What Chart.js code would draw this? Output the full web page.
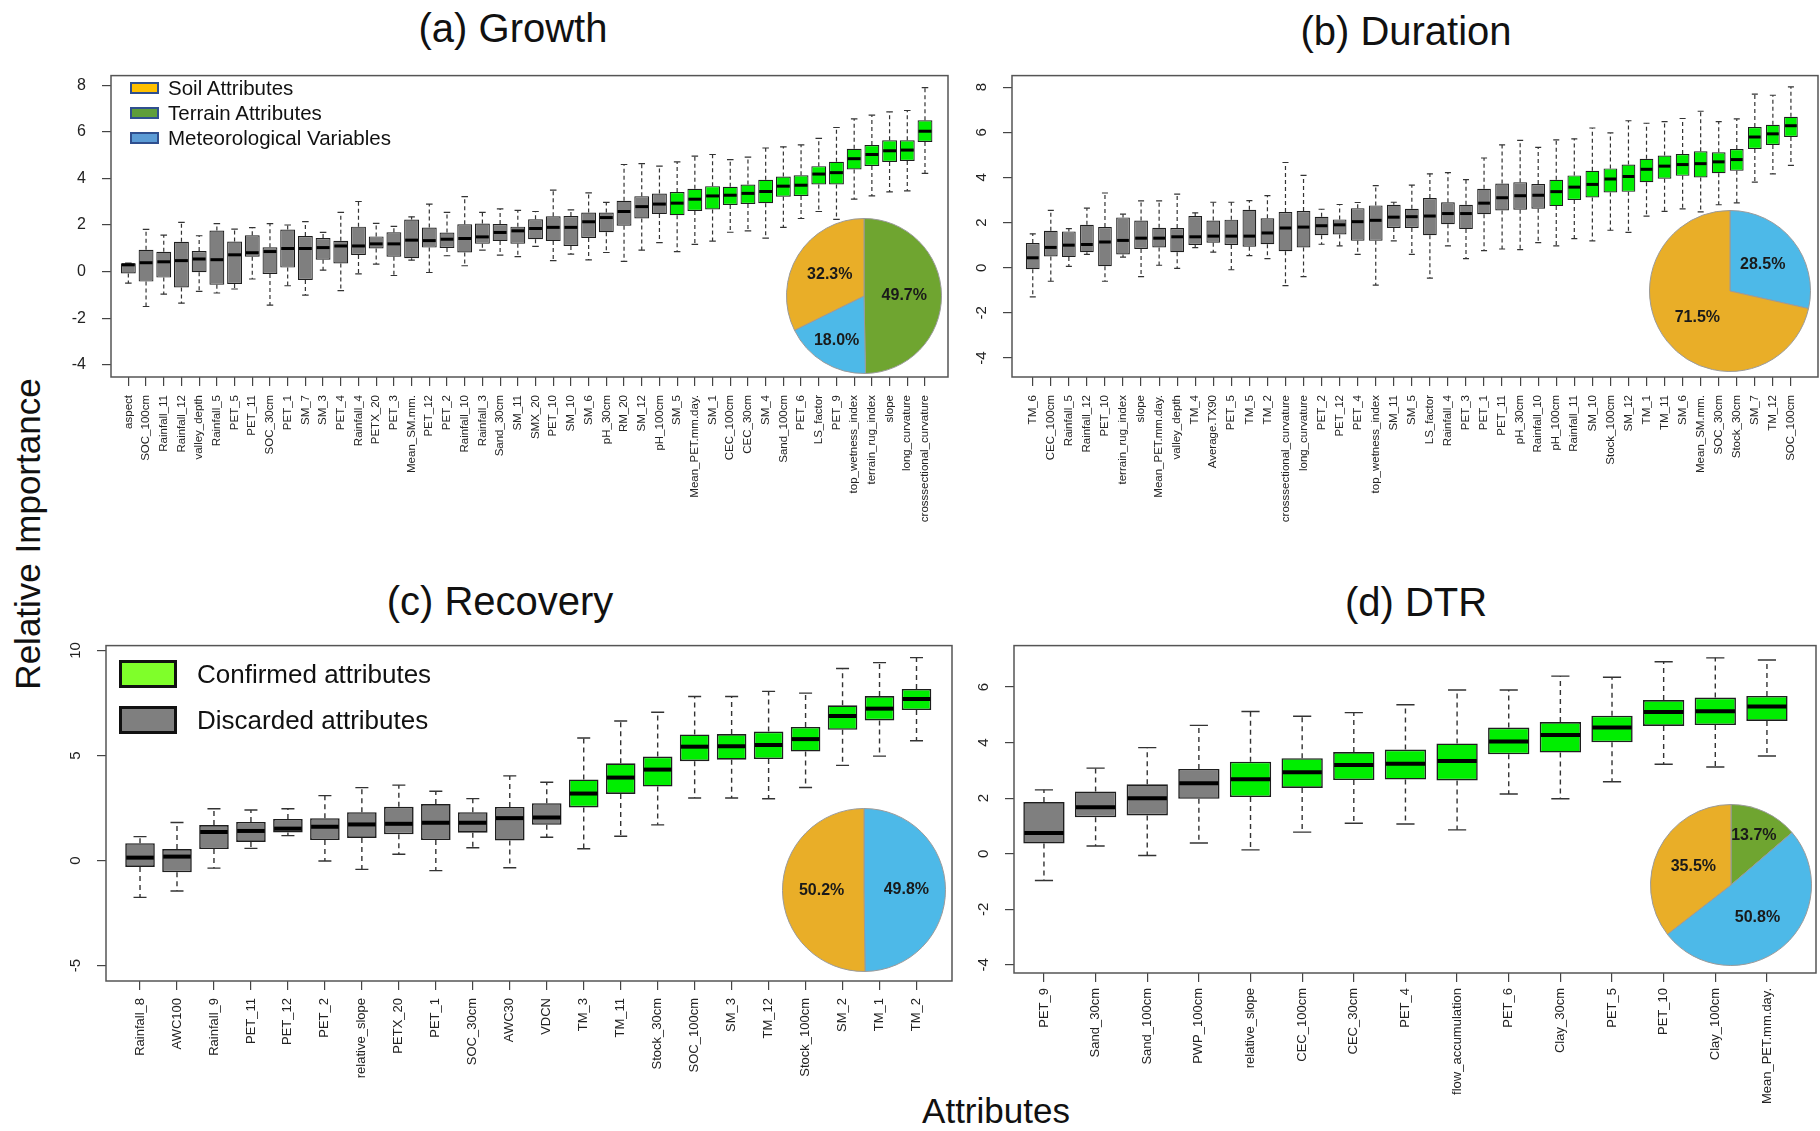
<!DOCTYPE html>
<html>
<head>
<meta charset="utf-8">
<script src="https://cdn.jsdelivr.net/npm/chart.js@4.4.0/dist/chart.umd.min.js"></script>
<style>
body { margin: 0; background: #fff; width: 1820px; height: 1131px; overflow: hidden; position: relative; font-family: "Liberation Sans", Arial, sans-serif; color: #111; }
.pane { position: absolute; }
.txt { position: absolute; white-space: nowrap; transform: translate(-50%, -50%); }
.title { font-size: 40px; }
.axt { font-size: 35px; }
.leg { position: absolute; }
.leg div { display: flex; align-items: center; }
.legA div { height: 25px; font-size: 20.5px; }
.legA span.sw { width: 25px; height: 8px; border: 2px solid #2f4f8f; margin-right: 9px; }
.legC div { height: 46px; font-size: 26px; }
.legC span.sw { width: 52px; height: 22px; border: 3px solid #111; margin-right: 20px; }
</style>
</head>
<body>
<div class="txt title" style="left:513px;top:28px">(a) Growth</div>
<div class="txt title" style="left:1406px;top:31px">(b) Duration</div>
<div class="txt title" style="left:500px;top:601px">(c) Recovery</div>
<div class="txt title" style="left:1416px;top:602px">(d) DTR</div>
<div class="txt axt" style="left:28px;top:534px;transform:translate(-50%,-50%) rotate(-90deg)">Relative Importance</div>
<div class="txt axt" style="left:996px;top:1111px">Attributes</div>

<div class="pane" style="left:0;top:50px"><canvas id="growth" width="960" height="500"></canvas></div>
<div class="pane" style="left:960px;top:50px"><canvas id="duration" width="860" height="500"></canvas></div>
<div class="pane" style="left:0;top:620px"><canvas id="recovery" width="960" height="511"></canvas></div>
<div class="pane" style="left:960px;top:620px"><canvas id="dtr" width="860" height="511"></canvas></div>

<div class="pane" style="left:785px;top:217px"><canvas id="pieA" width="158" height="158"></canvas></div>
<div class="pane" style="left:1648px;top:209px"><canvas id="pieB" width="164" height="164"></canvas></div>
<div class="pane" style="left:781px;top:807px"><canvas id="pieC" width="166" height="166"></canvas></div>
<div class="pane" style="left:1649px;top:803px"><canvas id="pieD" width="164" height="164"></canvas></div>

<div class="leg legA" style="left:130px;top:75px">
  <div><span class="sw" style="background:#ffc000"></span>Soil Attributes</div>
  <div><span class="sw" style="background:#5e9e3a"></span>Terrain Attributes</div>
  <div><span class="sw" style="background:#5b9bd5"></span>Meteorological Variables</div>
</div>
<div class="leg legC" style="left:119px;top:651px">
  <div><span class="sw" style="background:#7fff2a"></span>Confirmed attributes</div>
  <div><span class="sw" style="background:#7f7f7f"></span>Discarded attributes</div>
</div>

<script>
Chart.defaults.font.family = '"Liberation Sans", Arial, sans-serif';
Chart.defaults.animation = false;

// (a) Growth
const growthLabels = ['aspect','SOC_100cm','Rainfall_11','Rainfall_12','valley_depth','Rainfall_5','PET_5','PET_11','SOC_30cm','PET_1','SM_7','SM_3','PET_4','Rainfall_4','PETX_20','PET_3','Mean_SM.mm.','PET_12','PET_2','Rainfall_10','Rainfall_3','Sand_30cm','SM_11','SMX_20','PET_10','SM_10','SM_6','pH_30cm','RM_20','SM_12','pH_100cm','SM_5','Mean_PET.mm.day.','SM_1','CEC_100cm','CEC_30cm','SM_4','Sand_100cm','PET_6','LS_factor','PET_9','top_wetness_index','terrain_rug_index','slope','long_curvature','crosssectional_curvature'];
const growthHigh = [0.36,1.81,1.57,2.11,1.54,2.06,1.82,1.89,2.06,2.0,2.15,1.68,2.54,3.01,2.07,1.94,2.35,2.9,2.54,3.22,2.54,2.69,2.63,2.58,3.5,2.65,3.38,2.97,4.6,4.64,4.53,4.71,4.96,5.03,4.81,4.92,5.31,5.36,5.44,5.72,6.19,6.56,6.72,6.86,6.92,7.9];
const growthQ3 = [0.36,0.94,0.85,1.28,0.88,1.76,1.29,1.56,1.04,1.81,1.53,1.44,1.32,1.93,1.51,1.69,2.24,1.89,1.68,2.03,2.06,2.04,1.93,2.25,2.38,2.39,2.54,2.54,3.04,3.24,3.35,3.42,3.56,3.67,3.64,3.74,3.94,4.08,4.14,4.53,4.72,5.28,5.44,5.64,5.64,6.5];
const growthMed = [0.29,0.38,0.42,0.47,0.54,0.51,0.72,0.81,0.86,0.99,0.99,1.03,1.1,1.1,1.19,1.19,1.35,1.33,1.39,1.42,1.49,1.68,1.75,1.85,1.9,1.9,2.14,2.32,2.58,2.79,2.9,2.94,3.11,3.25,3.28,3.36,3.44,3.67,3.71,4.19,4.25,4.85,5.03,5.19,5.22,6.03];
const growthQ1 = [-0.08,-0.43,-0.26,-0.68,-0.03,-0.57,-0.53,0.64,-0.1,0.17,-0.36,0.51,0.35,0.71,0.99,0.64,0.57,1.03,1.01,0.82,1.19,1.31,1.19,1.39,1.31,1.1,1.44,1.69,1.97,2.28,2.47,2.42,2.6,2.67,2.86,2.9,2.94,3.22,3.25,3.74,3.74,4.39,4.54,4.71,4.75,5.57];
const growthLow = [-0.5,-1.5,-0.97,-1.36,-0.85,-0.92,-0.75,-0.32,-1.44,-0.61,-1.01,0.06,-0.82,-0.1,0.32,-0.17,0.49,-0.04,0.68,0.25,0.92,0.71,0.64,1.08,0.47,0.75,0.5,0.82,0.44,0.92,1.24,0.86,1.17,1.31,1.69,1.75,1.44,1.9,2.28,2.58,2.24,3.11,3.25,3.42,3.47,4.22];
const growthConfirmed = 15;
const growthTicks = [-4,-2,0,2,4,6,8];

// (b) Duration
const durationLabels = ['TM_6','CEC_100cm','Rainfall_5','Rainfall_12','PET_10','terrain_rug_index','slope','Mean_PET.mm.day.','valley_depth','TM_4','Average.TX90','PET_5','TM_5','TM_2','crosssectional_curvature','long_curvature','PET_2','PET_12','PET_4','top_wetness_index','SM_11','SM_5','LS_factor','Rainfall_4','PET_3','PET_1','PET_11','pH_30cm','Rainfall_10','pH_100cm','Rainfall_11','SM_10','Stock_100cm','SM_12','TM_1','TM_11','SM_6','Mean_SM.mm.','SOC_30cm','Stock_30cm','SM_7','TM_12','SOC_100cm'];
const durationHigh = [1.5,2.54,1.73,2.64,3.31,2.37,2.96,2.96,3.26,2.43,2.9,2.9,2.97,3.19,4.66,4.09,2.59,2.8,2.89,3.64,2.9,3.66,4.16,4.21,3.9,4.86,5.44,5.64,5.33,5.66,5.71,6.19,5.97,6.51,6.4,6.47,6.61,6.93,6.47,6.59,7.69,7.64,8.01];
const durationQ3 = [1.09,1.64,1.61,1.9,1.8,2.23,2.09,1.77,1.76,2.29,2.09,2.13,2.57,2.19,2.47,2.51,2.26,2.14,2.64,2.76,2.79,2.61,3.09,2.9,2.79,3.5,3.73,3.79,3.71,3.9,4.09,4.29,4.4,4.57,4.83,4.97,5.04,5.16,5.11,5.26,6.23,6.33,6.69];
const durationMed = [0.44,0.9,1.0,1.03,1.14,1.21,1.31,1.31,1.37,1.37,1.4,1.4,1.4,1.54,1.76,1.8,1.86,1.9,2.04,2.1,2.24,2.26,2.29,2.4,2.4,2.86,3.1,3.19,3.21,3.37,3.57,3.69,3.93,4.04,4.36,4.5,4.57,4.61,4.69,4.79,5.79,5.93,6.29];
const durationQ1 = [-0.07,0.5,0.47,0.69,0.07,0.59,0.83,0.9,0.69,1.01,1.11,1.01,0.93,1.04,0.73,0.9,1.44,1.47,1.19,1.19,1.76,1.76,1.44,1.93,1.71,2.37,2.54,2.57,2.61,2.73,3.0,3.11,3.33,3.36,3.79,3.94,4.07,4.0,4.19,4.29,5.26,5.44,5.79];
const durationLow = [-1.29,-0.6,0.06,0.59,-0.6,0.47,-0.39,0.11,-0.03,0.89,0.69,-0.09,0.54,0.4,-0.79,-0.39,1.04,0.97,0.59,-0.77,1.19,0.59,-0.46,0.97,0.4,0.76,0.83,0.8,1.11,0.97,1.29,1.19,1.66,1.57,2.29,2.5,2.61,2.47,2.79,2.87,3.79,4.16,4.53];
const durationConfirmed = 14;
const durationTicks = [-4,-2,0,2,4,6,8];

// (c) Recovery
const recoveryLabels = ['Rainfall_8','AWC100','Rainfall_9','PET_11','PET_12','PET_2','relative_slope','PETX_20','PET_1','SOC_30cm','AWC30','VDCN','TM_3','TM_11','Stock_30cm','SOC_100cm','SM_3','TM_12','Stock_100cm','SM_2','TM_1','TM_2'];
const recoveryHigh = [1.14,1.81,2.47,2.41,2.47,3.09,3.47,3.59,3.3,2.95,4.03,3.73,5.83,6.64,7.06,7.81,7.81,8.05,7.97,9.14,9.42,9.66];
const recoveryQ3 = [0.83,0.55,1.69,1.84,1.98,2.02,2.3,2.56,2.69,2.3,2.55,2.73,3.86,4.63,4.95,6.0,6.02,6.14,6.36,7.39,7.83,8.17];
const recoveryMed = [0.14,0.19,1.36,1.41,1.52,1.61,1.72,1.75,1.8,1.8,2.02,2.05,3.19,3.95,4.33,5.42,5.44,5.5,5.78,6.88,7.23,7.69];
const recoveryQ1 = [-0.3,-0.56,0.55,0.89,1.34,0.98,1.08,1.25,0.98,1.33,0.95,1.7,2.53,3.17,3.52,4.73,4.8,4.83,5.19,6.22,6.67,7.16];
const recoveryLow = [-1.75,-1.45,-0.36,0.58,1.19,-0.02,-0.42,0.3,-0.48,0.61,-0.34,1.11,0.56,1.16,1.7,2.98,2.98,2.94,3.48,4.53,4.97,5.7];
const recoveryConfirmed = 10;
const recoveryTicks = [-5,0,5,10];

// (d) DTR
const dtrLabels = ['PET_9','Sand_30cm','Sand_100cm','PWP_100cm','relative_slope','CEC_100cm','CEC_30cm','PET_4','flow_accumulation','PET_6','Clay_30cm','PET_5','PET_10','Clay_100cm','Mean_PET.mm.day.'];
const dtrHigh = [2.3,3.08,3.82,4.62,5.12,4.95,5.08,5.36,5.89,5.89,6.39,6.35,6.91,7.05,6.97];
const dtrQ3 = [1.86,2.24,2.5,3.05,3.31,3.44,3.66,3.75,3.97,4.54,4.74,4.97,5.53,5.62,5.68];
const dtrMed = [0.75,1.67,2.0,2.54,2.68,2.93,3.19,3.24,3.34,4.04,4.27,4.54,5.1,5.13,5.3];
const dtrQ1 = [0.37,1.31,1.38,1.98,2.04,2.37,2.65,2.67,2.64,3.58,3.64,4.01,4.6,4.63,4.78];
const dtrLow = [-0.96,0.28,-0.06,0.39,0.14,0.78,1.1,1.07,0.86,2.15,1.98,2.59,3.22,3.12,3.52];
const dtrConfirmed = 11;
const dtrTicks = [-4,-2,0,2,4,6];

// pie insets: share of confirmed importance by attribute group, clockwise from 12 o'clock
const growthShareGroups = ['Terrain', 'Meteorological', 'Soil'];
const growthShares = [49.7, 18.0, 32.3];
const durationShareGroups = ['Meteorological', 'Soil'];
const durationShares = [28.5, 71.5];
const recoveryShareGroups = ['Meteorological', 'Soil'];
const recoveryShares = [49.8, 50.2];
const dtrShareGroups = ['Terrain', 'Meteorological', 'Soil'];
const dtrShares = [13.7, 50.8, 35.5];

const pieColors = {Soil: '#e9ae28', Terrain: '#6fa530', Meteorological: '#4db9e8'};
const greenBox = '#00ee00';
const grayBox = '#7f7f7f';

function boxChart(id, p) {
  const n = p.labels.length;
  const fill = p.labels.map((_, i) => i >= n - p.confirmed ? greenBox : grayBox);
  const extras = {
    id: 'boxExtras',
    beforeDatasetsDraw(chart) {
      const {ctx, scales: {x, y}} = chart;
      const bars = chart.getDatasetMeta(0).data;
      ctx.save();
      ctx.strokeStyle = '#333';
      ctx.lineWidth = p.wl;
      bars.forEach((bar, i) => {
        const cx = x.getPixelForValue(i);
        const cap = bar.width * 0.22;
        const yh = y.getPixelForValue(p.high[i]);
        const y3 = y.getPixelForValue(p.q3[i]);
        const y1 = y.getPixelForValue(p.q1[i]);
        const yl = y.getPixelForValue(p.low[i]);
        ctx.setLineDash(p.dash);
        ctx.beginPath();
        ctx.moveTo(cx, y3); ctx.lineTo(cx, yh);
        ctx.moveTo(cx, y1); ctx.lineTo(cx, yl);
        ctx.stroke();
        ctx.setLineDash([]);
        ctx.beginPath();
        ctx.moveTo(cx - cap, yh); ctx.lineTo(cx + cap, yh);
        ctx.moveTo(cx - cap, yl); ctx.lineTo(cx + cap, yl);
        ctx.stroke();
      });
      ctx.restore();
    },
    afterDatasetsDraw(chart) {
      const {ctx, chartArea: a, scales: {x, y}} = chart;
      const bars = chart.getDatasetMeta(0).data;
      ctx.save();
      ctx.strokeStyle = '#000';
      ctx.lineWidth = p.ml;
      bars.forEach((bar, i) => {
        const cx = x.getPixelForValue(i);
        const ym = y.getPixelForValue(p.med[i]);
        ctx.beginPath();
        ctx.moveTo(cx - bar.width / 2 + 1, ym);
        ctx.lineTo(cx + bar.width / 2 - 1, ym);
        ctx.stroke();
      });
      // R style box round the plot region
      ctx.strokeStyle = '#555';
      ctx.lineWidth = 1.5;
      ctx.strokeRect(a.left, a.top, a.right - a.left, a.bottom - a.top);
      ctx.restore();
    },
    afterDraw(chart) {
      if (!p.rotateY) return;
      const {ctx, chartArea: a, scales: {y}} = chart;
      ctx.save();
      ctx.fillStyle = '#222';
      ctx.font = '15px "Liberation Sans", Arial, sans-serif';
      ctx.textAlign = 'center';
      ctx.textBaseline = 'middle';
      p.ticks.forEach(v => {
        ctx.save();
        ctx.translate(a.left - 30, y.getPixelForValue(v));
        ctx.rotate(-Math.PI / 2);
        ctx.fillText(String(v), 0, 0);
        ctx.restore();
      });
      ctx.restore();
    }
  };

  return new Chart(document.getElementById(id), {
    type: 'bar',
    data: {
      datasets: [{
        data: p.q1.map((v, i) => ({x: i, y: [v, p.q3[i]]})),
        backgroundColor: fill,
        borderColor: '#1e1e1e',
        borderWidth: p.bl,
        borderSkipped: false,
        barPercentage: p.boxw,
        categoryPercentage: 1
      }]
    },
    options: {
      responsive: false,
      devicePixelRatio: 1,
      layout: {padding: p.pad},
      plugins: {legend: {display: false}, tooltip: {enabled: false}},
      scales: {
        x: {
          type: 'linear',
          min: -p.xpad[0],
          max: n - 1 + p.xpad[1],
          offset: false,
          afterBuildTicks: s => { s.ticks = p.labels.map((_, i) => ({value: i})); },
          afterFit: s => { s.height = p.xh; },
          grid: {drawOnChartArea: false, offset: false, tickLength: 9, tickColor: '#444', lineWidth: 1.2},
          border: {display: false},
          ticks: {autoSkip: false, minRotation: 90, maxRotation: 90, padding: p.xlp, color: '#222',
                  font: {size: p.xfs}, callback: (v, i) => p.labels[i]}
        },
        y: {
          min: p.ymin,
          max: p.ymax,
          afterBuildTicks: s => { s.ticks = p.ticks.map(v => ({value: v})); },
          afterFit: s => { s.width = p.yw; },
          grid: {drawOnChartArea: false, tickLength: 9, tickColor: '#444', lineWidth: 1.2},
          border: {display: false},
          ticks: {padding: 16, color: p.rotateY ? 'rgba(0,0,0,0)' : '#222', font: {size: 16}}
        }
      }
    },
    plugins: [extras]
  });
}

function pieChart(id, groups, shares) {
  return new Chart(document.getElementById(id), {
    type: 'pie',
    data: {
      labels: groups,
      datasets: [{data: shares, backgroundColor: groups.map(g => pieColors[g]), borderColor: '#9a9a9a', borderWidth: 1}]
    },
    options: {
      responsive: false,
      devicePixelRatio: 1,
      layout: {padding: 1},
      plugins: {legend: {display: false}, tooltip: {enabled: false}}
    },
    plugins: [{
      id: 'pct',
      afterDatasetsDraw(chart) {
        const ctx = chart.ctx;
        ctx.save();
        ctx.fillStyle = '#1a1a1a';
        ctx.font = 'bold 16px "Liberation Sans", Arial, sans-serif';
        ctx.textAlign = 'center';
        ctx.textBaseline = 'middle';
        chart.getDatasetMeta(0).data.forEach((arc, i) => {
          const mid = (arc.startAngle + arc.endAngle) / 2;
          const f = shares[i] < 20 ? 0.68 : 0.52;
          ctx.fillText(shares[i].toFixed(1) + '%',
            arc.x + Math.cos(mid) * arc.outerRadius * f,
            arc.y + Math.sin(mid) * arc.outerRadius * f);
        });
        ctx.restore();
      }
    }]
  });
}

boxChart('growth', {
  labels: growthLabels, high: growthHigh, q3: growthQ3, med: growthMed, q1: growthQ1, low: growthLow,
  confirmed: growthConfirmed, ticks: growthTicks, ymin: -4.53, ymax: 8.42,
  pad: {top: 16, right: 12, left: 0, bottom: 0}, yw: 111, xh: 173, xpad: [0.98, 1.3],
  xfs: 11.5, xlp: 9,
  boxw: 0.84, bl: 1.2, wl: 1.2, ml: 3, dash: [4, 3], rotateY: false
});
boxChart('duration', {
  labels: durationLabels, high: durationHigh, q3: durationQ3, med: durationMed, q1: durationQ1, low: durationLow,
  confirmed: durationConfirmed, ticks: durationTicks, ymin: -4.84, ymax: 8.51,
  pad: {top: 16, right: 2, left: 0, bottom: 0}, yw: 52, xh: 173, xpad: [1.15, 1.5],
  xfs: 11.5, xlp: 9,
  boxw: 0.76, bl: 1.2, wl: 1.2, ml: 3, dash: [4, 3], rotateY: true
});
boxChart('recovery', {
  labels: recoveryLabels, high: recoveryHigh, q3: recoveryQ3, med: recoveryMed, q1: recoveryQ1, low: recoveryLow,
  confirmed: recoveryConfirmed, ticks: recoveryTicks, ymin: -5.73, ymax: 10.23,
  pad: {top: 20, right: 8, left: 0, bottom: 0}, yw: 106, xh: 150, xpad: [0.92, 0.96],
  xfs: 13, xlp: 8,
  boxw: 0.8, bl: 1.6, wl: 1.4, ml: 4, dash: [5, 4], rotateY: true
});
boxChart('dtr', {
  labels: dtrLabels, high: dtrHigh, q3: dtrQ3, med: dtrMed, q1: dtrQ1, low: dtrLow,
  confirmed: dtrConfirmed, ticks: dtrTicks, ymin: -4.29, ymax: 7.49,
  pad: {top: 17, right: 4, left: 0, bottom: 0}, yw: 54, xh: 158, xpad: [0.58, 0.95],
  xfs: 13, xlp: 6,
  boxw: 0.8, bl: 1.6, wl: 1.4, ml: 4, dash: [5, 4], rotateY: true
});

pieChart('pieA', growthShareGroups, growthShares);
pieChart('pieB', durationShareGroups, durationShares);
pieChart('pieC', recoveryShareGroups, recoveryShares);
pieChart('pieD', dtrShareGroups, dtrShares);
</script>
</body>
</html>
